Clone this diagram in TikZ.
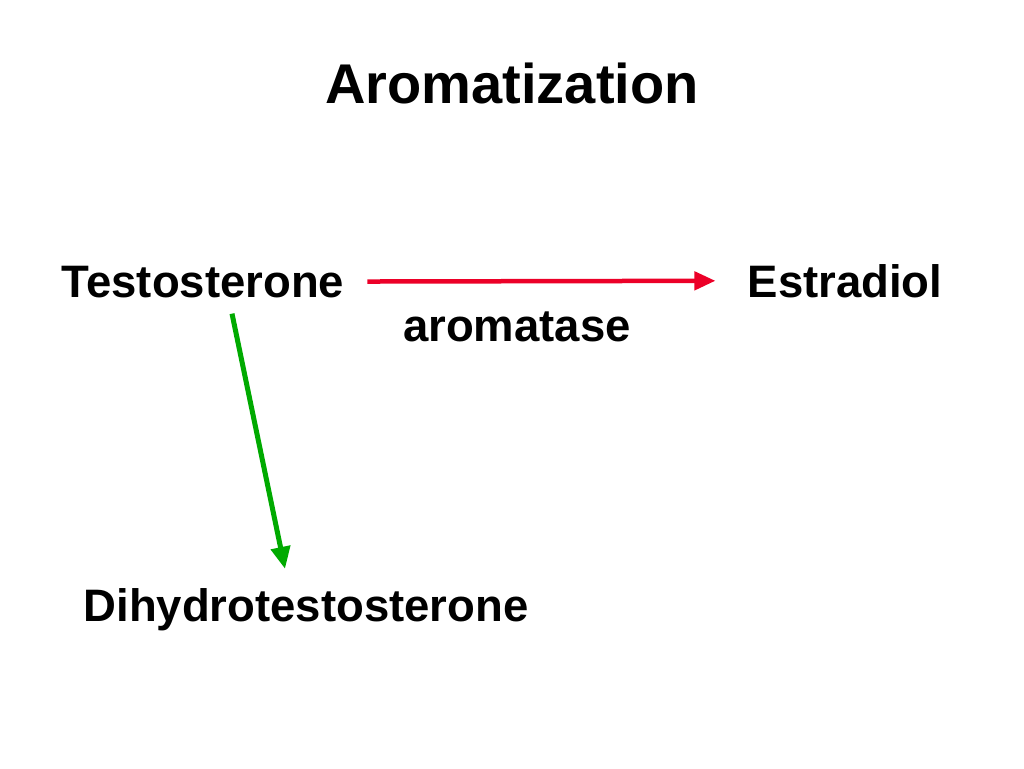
\documentclass[tikz,border=0pt]{standalone}
\usepackage{fontspec}
\setmainfont{Liberation Sans}
\usetikzlibrary{arrows.meta,calc}
\definecolor{arrred}{RGB}{236,0,40}
\definecolor{arrgreen}{RGB}{0,170,0}
\begin{document}
\begin{tikzpicture}[x=1pt,y=-1pt,
  lbl/.style={inner sep=0pt,anchor=base,font=\fontsize{45.5}{50}\selectfont\bfseries},
  ttl/.style={inner sep=0pt,anchor=base,font=\fontsize{56}{60}\selectfont\bfseries},
  redarrow/.style={draw=arrred,line width=4.5pt,-{Triangle[length=21pt,width=18pt]}},
  greenarrow/.style={draw=arrgreen,line width=5pt,-{Triangle[length=22pt,width=19pt]}}]
\fill[white] (0,0) rectangle (1024,768);
\useasboundingbox (0,0) rectangle (1024,768);
\node[ttl] (title) at (512,103) {Aromatization};
\node[lbl] (T) at (203,297) {Testosterone};
\node[lbl] (E) at (845,297) {Estradiol};
\node[lbl] (A) at (517,341) {aromatase};
\node[lbl] (D) at (306,621) {Dihydrotestosterone};
\draw[redarrow, shorten <=23pt, shorten >=32pt] (T.east) -- (E.west);
\draw[greenarrow] ($(T.south)+(29,16)$) -- ($(D.north)+(-21,-19)$);
\end{tikzpicture}
\end{document}
